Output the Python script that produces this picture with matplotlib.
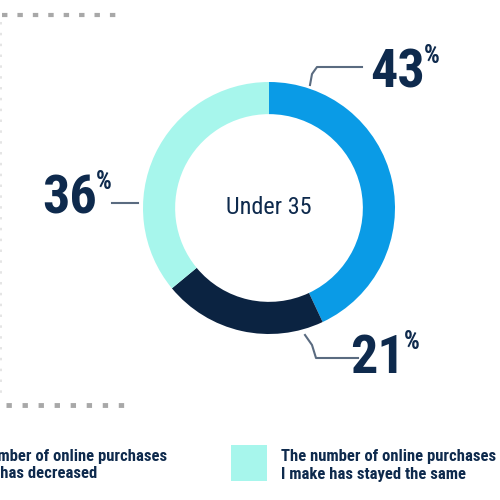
import matplotlib
matplotlib.use("Agg")
import matplotlib.pyplot as plt
from matplotlib import font_manager as fm

# ---- data ----
group_label = "Under 35"
categories = [
    "The number of online purchases\nI make has increased",
    "The number of online purchases\nI make has decreased",
    "The number of online purchases\nI make has stayed the same",
]
values = [43, 21, 36]
value_labels = ["43", "21", "36"]
colors = ["#0A9BE6", "#0B2341", "#A7F6EC"]

NAVY = "#0E2A4D"
LEAD = "#5A6B80"
DOT = "#A8A8A8"

names = {f.name for f in fm.fontManager.ttflist}
cond = "Roboto Condensed" if "Roboto Condensed" in names else (
    "Liberation Sans Narrow" if "Liberation Sans Narrow" in names else "Roboto")

W = H = 500
fig = plt.figure(figsize=(5, 5), dpi=100)
fig.patch.set_facecolor("white")

# overlay axes in pixel coords (y down)
ov = fig.add_axes([0, 0, 1, 1])
ov.set_xlim(0, W)
ov.set_ylim(H, 0)
ov.axis("off")

# donut axes
cx, cy, R = 269, 208, 126
pa = fig.add_axes([(cx - R) / W, (H - cy - R) / H, 2 * R / W, 2 * R / H])
pa.pie(values, colors=colors, startangle=90, counterclock=False,
       wedgeprops=dict(width=0.255, linewidth=0), radius=1.0, frame=True)
pa.set_xlim(-1, 1)
pa.set_ylim(-1, 1)
pa.set_aspect("equal")
pa.axis("off")
pa.text(0, 0.0, group_label, ha="center", va="center", fontsize=17.5,
        family=cond, color=NAVY)

# dotted frame fragments
ov.plot([2, 120], [14.5, 14.5], color=DOT, lw=3, dashes=(1.3, 2.4), solid_capstyle="butt")
ov.plot([1, 1], [22, 400], color=DOT, lw=1.2, dashes=(1.5, 5), alpha=0.35)
ov.plot([6, 124], [405, 405], color=DOT, lw=3.5, dashes=(1.1, 2.2), solid_capstyle="butt")

# value labels
big = dict(fontsize=39, fontweight="bold", family=cond, color=NAVY)
small = dict(fontsize=18, fontweight="bold", family=cond, color=NAVY)

def value_label(x_right, y_base, txt):
    ov.text(x_right, y_base, txt, ha="right", va="baseline", **big)
    ov.text(x_right - 1, y_base - 43, "%", ha="left", va="top", **small)

value_label(425, 87, value_labels[0])
value_label(405, 373, value_labels[1])
value_label(97, 213, value_labels[2])

# leader lines
ov.plot([362, 317, 312, 310], [67, 67, 74, 85], color=LEAD, lw=1.5)
ov.plot([305, 312, 316, 358], [335, 345, 358, 358], color=LEAD, lw=1.5)
ov.plot([112, 138], [203, 203], color=LEAD, lw=1.5)

# legend (partially off canvas, as in the reference crop)
leg_x = [-98, 231]
leg_idx = [1, 2]
for lx, i in zip(leg_x, leg_idx):
    ov.add_patch(plt.Rectangle((lx, 445), 36, 36, color=colors[i], lw=0, clip_on=True))
    ov.text(lx + 50, 465, categories[i], ha="left", va="center", fontsize=12,
            fontweight="bold", family=cond, color=NAVY, linespacing=1.25)

fig.savefig("out.png", dpi=100, facecolor="white")
